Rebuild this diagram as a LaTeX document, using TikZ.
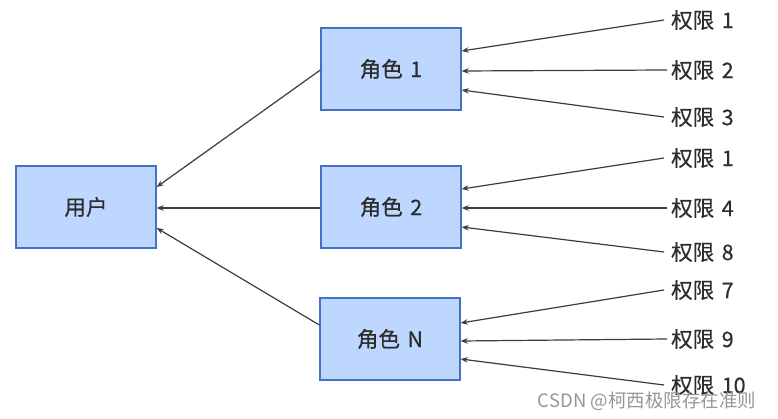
\documentclass[tikz,border=0pt]{standalone}
\usepackage{fontspec}
\setmainfont{Noto Sans CJK SC}[FakeBold=0.4]
\newfontfamily\wmfont{Noto Sans CJK SC}
\usetikzlibrary{arrows.meta}
\newcommand{\myspc}{\hspace{0.35em}}
\begin{document}
\begin{tikzpicture}[x=1pt,y=-1pt,
  box/.style={draw={rgb,255:red,68;green,114;blue,196}, line width=1.3pt, fill={rgb,255:red,189;green,215;blue,255}, minimum width=140pt, minimum height=82pt, inner sep=0pt, font=\fontsize{21.5}{25}\selectfont, text={rgb,255:red,45;green,45;blue,45}},
  perm/.style={anchor=west, inner sep=0pt, font=\fontsize{21.5}{25}\selectfont, text={rgb,255:red,45;green,45;blue,45}},
  conn/.style={draw={rgb,255:red,60;green,60;blue,60}, line width=1.2pt, -{Stealth[length=7pt,width=5.5pt]}}
]
\useasboundingbox (0,0) rectangle (778,419);
\node[box] (u) at (86,207) {用户};
\node[box] (r1) at (391,69) {角色\myspc 1};
\node[box] (r2) at (391,207) {角色\myspc 2};
\node[box] (rn) at (390,339) {角色\myspc N};

\node[perm] (p11) at (671,20) {权限\myspc 1};
\node[perm] (p12) at (671,70) {权限\myspc 2};
\node[perm] (p13) at (671,117) {权限\myspc 3};
\node[perm] (p21) at (671,158) {权限\myspc 1};
\node[perm] (p24) at (671,208) {权限\myspc 4};
\node[perm] (p28) at (671,252) {权限\myspc 8};
\node[perm] (pn7) at (671,290) {权限\myspc 7};
\node[perm] (pn9) at (671,339) {权限\myspc 9};
\node[perm] (pn10) at (671,385) {权限\myspc 10};

\draw[conn] ([xshift=-7pt]p11.west) -- ([yshift=18pt]r1.east);
\draw[conn] ([xshift=-4pt]p12.west) -- ([yshift=-2pt]r1.east);
\draw[conn] ([xshift=-7pt]p13.west) -- ([yshift=-21pt]r1.east);
\draw[conn] ([xshift=-7pt]p21.west) -- ([yshift=18pt]r2.east);
\draw[conn] ([xshift=-4pt]p24.west) -- ([yshift=-1pt]r2.east);
\draw[conn] ([xshift=-7pt]p28.west) -- ([yshift=-20pt]r2.east);
\draw[conn] ([xshift=-7pt]pn7.west) -- ([yshift=16pt]rn.east);
\draw[conn] ([xshift=-4pt]pn9.west) -- ([yshift=-2pt]rn.east);
\draw[conn] ([xshift=-7pt]pn10.west) -- ([yshift=-20pt]rn.east);

\draw[conn] ([yshift=-1pt]r1.west) -- ([yshift=20pt]u.east);
\draw[conn] ([yshift=-1pt]r2.west) -- ([yshift=-1pt]u.east);
\draw[conn] ([yshift=14pt]rn.west) -- ([yshift=-21pt]u.east);

\node[anchor=center, inner sep=0pt, font=\wmfont\fontsize{18.5}{21}\selectfont, text={rgb,255:red,150;green,150;blue,150}] (wm) at (647,401) {CSDN @柯西极限存在准则};
\end{tikzpicture}
\end{document}
